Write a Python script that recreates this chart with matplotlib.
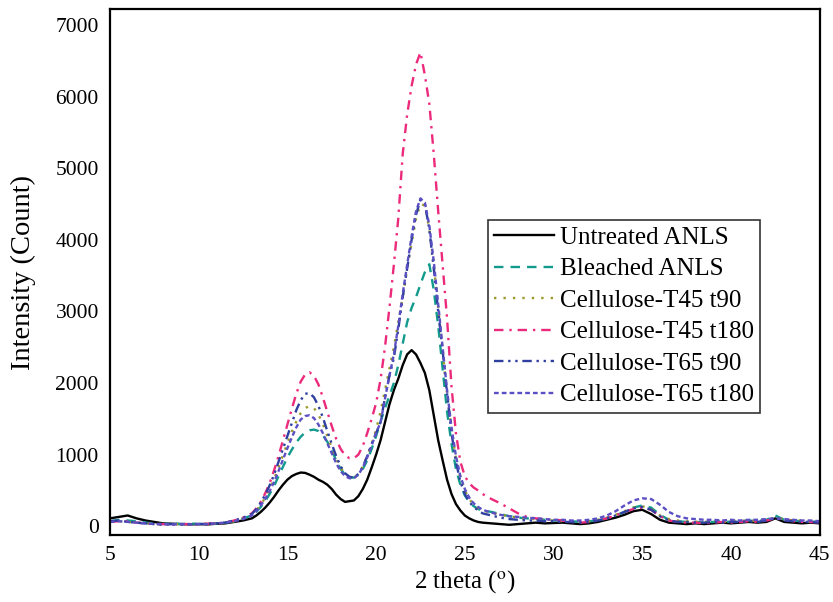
import numpy as np
import matplotlib
matplotlib.use("Agg")
import matplotlib.pyplot as plt

plt.rcParams['font.family'] = ['Liberation Serif', 'DejaVu Serif']
plt.rcParams['mathtext.fontset'] = 'stix'

# 2-theta sampling (coarse on the flat parts, finer around the peaks)
two_theta = np.concatenate([np.arange(5.0, 12.75, 0.5),
                            np.arange(13.0, 26.125, 0.25),
                            np.arange(26.5, 45.25, 0.5)])

untreated = [110, 130, 150, 110, 80, 60, 40, 35, 30, 25, 30, 25, 35, 40, 60, 80,
             110, 150, 200, 260, 330, 410, 500, 580, 650, 700, 730, 750, 745, 720,
             690, 650, 620, 580, 520, 440, 380, 340, 350, 360, 420, 520, 650, 820,
             1000, 1200, 1450, 1700, 1900, 2060, 2250, 2400, 2460, 2400, 2280, 2140,
             1900, 1550, 1200, 920, 650, 450, 310, 220, 150, 110, 80, 60, 50,
             40, 30, 20, 30, 40, 50, 40, 45, 50, 40, 30, 40, 60, 90, 120, 160, 210,
             230, 170, 90, 50, 40, 30, 40, 30, 40, 50, 40, 50, 60, 50, 60, 110, 60,
             50, 40, 50, 40]

bleached = [70, 90, 80, 70, 50, 40, 30, 40, 30, 40, 30, 35, 40, 50, 70, 110,
            150, 200, 270, 350, 450, 560, 700, 830, 960, 1070, 1170, 1250, 1310, 1340,
            1350, 1330, 1270, 1180, 1060, 920, 800, 720, 680, 680, 720, 800, 920, 1080,
            1260, 1460, 1650, 1820, 2000, 2250, 2550, 2850, 3050, 3200, 3380, 3550,
            3660, 3300, 2800, 2200, 1600, 1150, 800, 580, 430, 340, 280, 240, 220,
            200, 170, 140, 120, 110, 100, 90, 80, 80, 70, 60, 70, 80, 110, 150, 200,
            260, 290, 260, 160, 90, 70, 60, 60, 50, 60, 70, 60, 70, 80, 70, 90, 150,
            90, 80, 70, 60, 70]

t45_t90 = [60, 70, 60, 50, 40, 30, 30, 25, 30, 30, 30, 40, 40, 50, 70, 110,
           160, 220, 300, 400, 520, 660, 820, 990, 1160, 1320, 1460, 1580, 1650, 1680,
           1650, 1560, 1430, 1260, 1100, 940, 820, 730, 680, 680, 730, 830, 980, 1150,
           1350, 1600, 1900, 2200, 2500, 2850, 3200, 3600, 3950, 4300, 4500, 4480,
           4150, 3650, 3050, 2450, 1850, 1350, 950, 680, 500, 380, 300, 250, 220,
           190, 160, 140, 120, 100, 100, 90, 80, 70, 70, 60, 70, 90, 120, 160, 210,
           260, 280, 240, 150, 100, 80, 70, 60, 60, 70, 60, 70, 80, 70, 80, 90, 120,
           100, 80, 80, 70, 60]

t45_t180 = [60, 70, 70, 50, 40, 30, 30, 20, 30, 30, 25, 35, 40, 50, 80, 120,
            180, 250, 340, 460, 600, 780, 980, 1200, 1420, 1640, 1850, 2020, 2120, 2150,
            2100, 1980, 1800, 1600, 1400, 1220, 1080, 990, 950, 950, 1000, 1120, 1300, 1500,
            1720, 2050, 2500, 3050, 3650, 4300, 5200, 5750, 6150, 6450, 6620, 6300,
            5900, 5200, 4400, 3650, 2900, 1950, 1300, 900, 700, 600, 540, 500, 450,
            380, 320, 250, 180, 130, 110, 100, 90, 80, 60, 50, 60, 80, 110, 150, 200,
            240, 260, 230, 140, 80, 60, 50, 50, 40, 50, 60, 50, 60, 70, 60, 80, 110,
            90, 70, 60, 60, 50]

t65_t90 = [70, 80, 60, 50, 40, 30, 20, 30, 25, 30, 30, 35, 40, 50, 80, 120,
           170, 240, 330, 440, 570, 720, 900, 1080, 1260, 1440, 1620, 1760, 1850, 1860,
           1800, 1680, 1520, 1330, 1150, 980, 840, 740, 690, 680, 730, 830, 980, 1150,
           1300, 1450, 1800, 2100, 2350, 2750, 3200, 3600, 4000, 4350, 4560, 4500,
           4150, 3600, 3000, 2450, 1850, 1300, 900, 620, 450, 340, 270, 220, 180,
           150, 120, 100, 90, 80, 80, 70, 70, 60, 60, 50, 60, 80, 110, 150, 200,
           250, 270, 230, 140, 80, 60, 60, 50, 50, 60, 50, 60, 60, 70, 60, 80, 120,
           80, 70, 60, 60, 50]

t65_t180 = [60, 70, 60, 50, 40, 30, 30, 25, 30, 25, 30, 30, 40, 50, 70, 100,
            150, 210, 290, 380, 490, 620, 770, 930, 1090, 1240, 1380, 1490, 1540, 1550,
            1510, 1420, 1300, 1160, 1020, 880, 770, 700, 670, 670, 720, 820, 960, 1130,
            1300, 1450, 1780, 2100, 2400, 2800, 3250, 3650, 4050, 4400, 4580, 4520,
            4200, 3700, 3100, 2500, 1900, 1380, 980, 700, 520, 400, 320, 270, 230,
            190, 160, 140, 130, 120, 110, 100, 90, 90, 80, 80, 90, 110, 150, 210,
            290, 360, 390, 380, 300, 200, 140, 110, 100, 90, 90, 80, 90, 80, 90, 90,
            100, 110, 100, 90, 80, 80, 70]

labels = ['Untreated ANLS', 'Bleached ANLS', 'Cellulose-T45 t90',
          'Cellulose-T45 t180', 'Cellulose-T65 t90', 'Cellulose-T65 t180']
colors = ['black', '#129a8c', '#9c9a2c', '#ec2a7c', '#2f3f9f', '#5b4fc4']
styles = ['-', (0, (4, 3)), (0, (1, 3)), (0, (4, 2.5, 1, 2.5)),
          (0, (4, 2, 1, 2, 1, 2)), (0, (2, 1.3))]

fig = plt.figure(figsize=(8.33, 6.02), dpi=100)
ax = fig.add_axes([0.132, 0.111, 0.852, 0.874])

series = [untreated, bleached, t45_t90, t45_t180, t65_t90, t65_t180]
for y, lab, c, ls in zip(series, labels, colors, styles):
    ax.plot(two_theta, y, color=c, linestyle=ls, linewidth=1.7, label=lab)

ax.set_xlim(5, 45)
ax.set_ylim(-125, 7225)
ax.set_xticks(np.arange(5, 46, 5))
ax.set_yticks(np.arange(0, 7001, 1000))
ax.tick_params(length=0, labelsize=15.5, pad=8)
for s in ax.spines.values():
    s.set_linewidth(1.6)

ax.set_xlabel('2 theta ($^\\mathrm{o}$)', fontsize=18, labelpad=2)
ax.set_ylabel('Intensity (Count)', fontsize=20.5, labelpad=14)

leg = ax.legend(loc='upper left', bbox_to_anchor=(0.532, 0.599), borderaxespad=0,
                fontsize=18, handlelength=2.4, handletextpad=0.25, labelspacing=0.36,
                borderpad=0.25, fancybox=False, frameon=True)
leg.get_frame().set_edgecolor('black')
leg.get_frame().set_linewidth(1.2)

fig.savefig('out.png', dpi=100)
